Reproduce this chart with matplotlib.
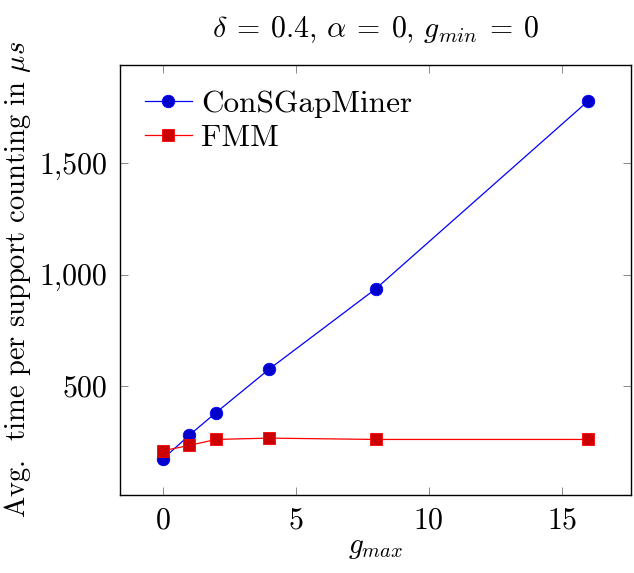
import matplotlib
matplotlib.use('Agg')
import matplotlib.pyplot as plt
from matplotlib.ticker import FuncFormatter

plt.rcParams['font.family'] = 'serif'
plt.rcParams['font.serif'] = ['cmr10']
plt.rcParams['mathtext.fontset'] = 'cm'
plt.rcParams['axes.formatter.use_mathtext'] = True

# data
g_max = [0, 1, 2, 4, 8, 16]
consgap = [169, 277, 378, 574, 935, 1782]
fmm = [207, 231, 258, 264, 258, 258]

fig = plt.figure(figsize=(6.34, 5.73), dpi=100)
ax = fig.add_axes([0.1893, 0.1361, 0.806, 0.7505])

ax.plot(g_max, consgap, '-o', color='#0000ff', lw=0.9, markersize=9,
        markerfacecolor='#0000cc', markeredgecolor='#0000ff', markeredgewidth=0.6,
        label='ConSGapMiner')
ax.plot(g_max, fmm, '-s', color='#ff0000', lw=0.9, markersize=8.5,
        markerfacecolor='#cc0000', markeredgecolor='#ff0000', markeredgewidth=0.6,
        label='FMM')

ax.set_xlim(-1.6, 17.6)
ax.set_ylim(8, 1943)
ax.set_xticks([0, 5, 10, 15])
ax.set_yticks([500, 1000, 1500])
ax.yaxis.set_major_formatter(FuncFormatter(lambda v, p: '{:,.0f}'.format(v)))

ax.tick_params(direction='in', length=6, width=0.6, color='#777777',
               top=True, right=True, labelsize=21.5, pad=9)
for s in ax.spines.values():
    s.set_linewidth(1.0)

ax.set_xlabel(r'$g_{max}$', fontsize=21, labelpad=0)
ax.set_ylabel(r'Avg.  time per support counting in $\mu s$', fontsize=20.5, labelpad=5)
ax.set_title(r'$\delta\:=\:0.4,\,\alpha\:=\:0,\,g_{min}\:=\:0$', fontsize=21.5, pad=20)

ax.legend(loc='upper left', frameon=False, fontsize=22.5, handlelength=1.5,
          handletextpad=0.3, borderaxespad=0.4, labelspacing=0.2)

fig.savefig('out.png', dpi=100)
